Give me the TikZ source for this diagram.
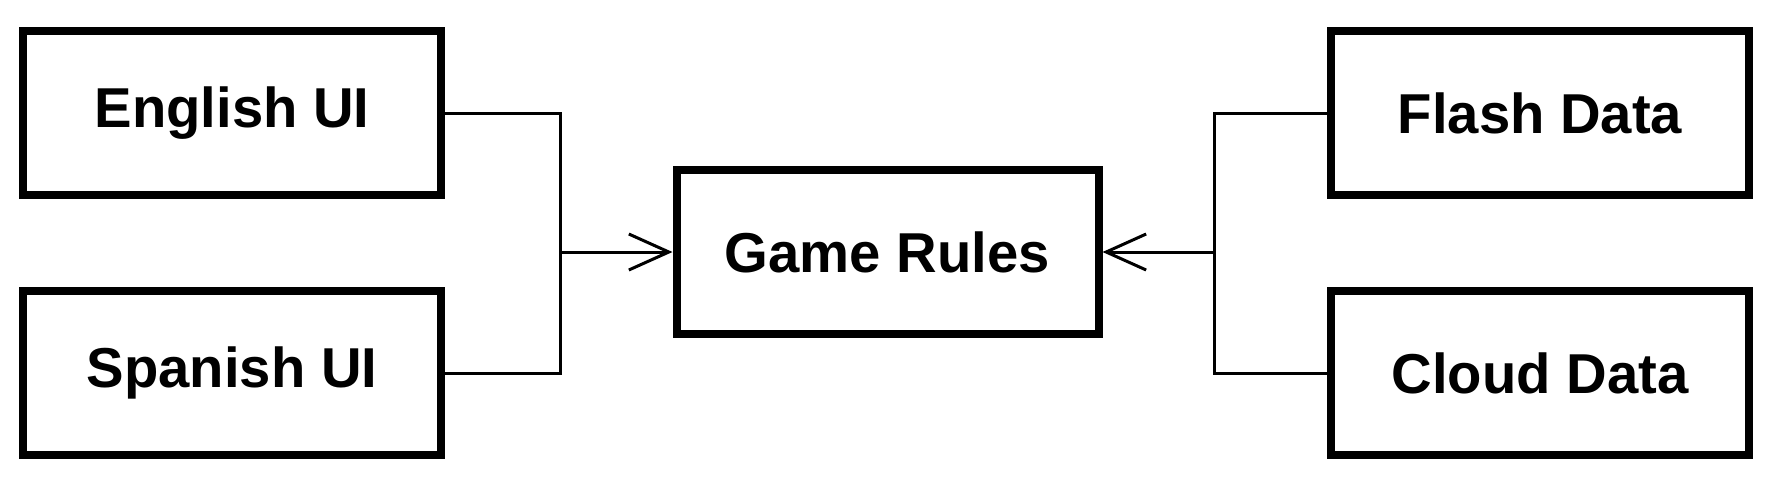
\documentclass[tikz,border=0pt]{standalone}
\usepackage{fontspec}
\setmainfont{Liberation Sans}
\usepackage{tikz}
\usetikzlibrary{arrows.meta,positioning}
\tikzstyle{module} = [rectangle, minimum width=4.18cm, minimum height=1.64cm, text centered, draw=black, line width=0.08cm, font=\bfseries\fontsize{16}{19}\selectfont]
\tikzstyle{link} = [line width=0.03cm, color=black]
\tikzstyle{arrow} = [link, -{Straight Barb[length=0.4cm,width=0.36cm,line width=0.03cm]}]

\begin{document}
\begin{tikzpicture}
\useasboundingbox (0,0) rectangle (17.74,-4.90);
% UI modules
\node[module] (english) at (2.32,-1.13) {English UI};
\node[module] (spanish) at (2.32,-3.73) {Spanish UI};

% Core
\node[module, minimum width=4.22cm] (rules) at (8.875,-2.52) {Game Rules};

% Storage modules
\node[module] (flash) at (15.40,-1.13) {Flash Data};
\node[module] (cloud) at (15.40,-3.73) {Cloud Data};

% Junctions
\coordinate (ljoin) at (5.60,-2.52);
\coordinate (rjoin) at (12.14,-2.52);

% Left side
\draw[link] (english.east) -| (ljoin);
\draw[link] (spanish.east) -| (ljoin);
\draw[arrow] (ljoin) -- (rules.west);

% Right side
\draw[link] (flash.west) -| (rjoin);
\draw[link] (cloud.west) -| (rjoin);
\draw[arrow] (rjoin) -- (rules.east);
\end{tikzpicture}
\end{document}
